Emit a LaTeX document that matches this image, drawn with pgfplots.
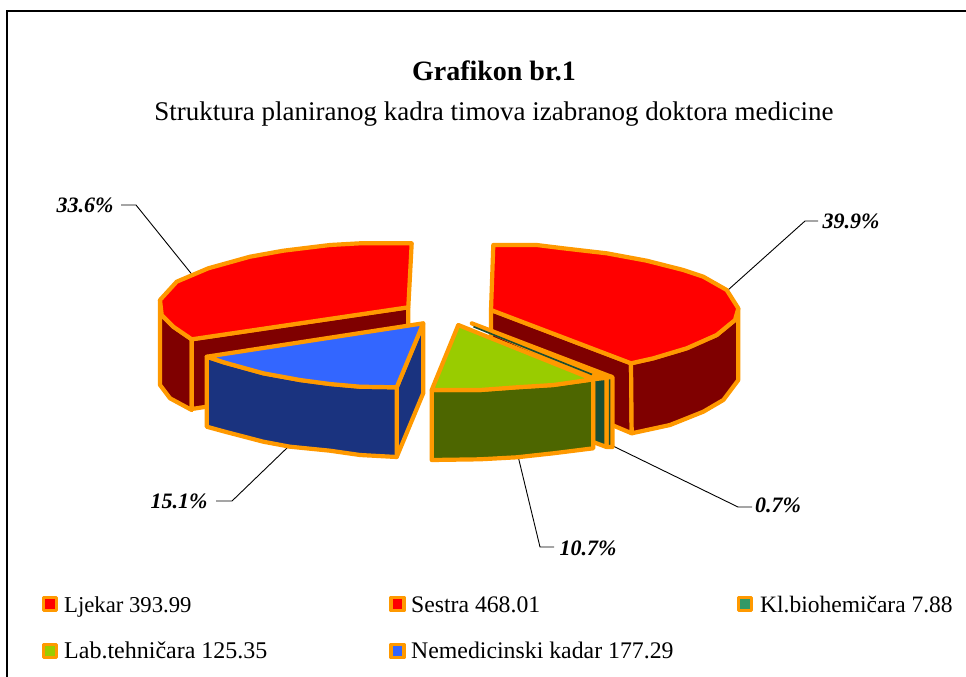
\documentclass[border=0pt]{standalone}
\usepackage{pgfplots}
\pgfplotsset{compat=1.18}
\usepackage{fontspec}
\setmainfont{Liberation Serif}
\definecolor{edge}{HTML}{FF9900}
\definecolor{redtop}{HTML}{FF0000}
\definecolor{redside}{HTML}{7F0000}
\definecolor{bluetop}{HTML}{3366FF}
\definecolor{blueside}{HTML}{1A337F}
\definecolor{greentop}{HTML}{99CC00}
\definecolor{greenside}{HTML}{4D6600}
\definecolor{tealtop}{HTML}{339966}
\definecolor{tealside}{HTML}{1A4D33}
\pgfplotsset{
  face/.style={draw=edge,line width=4.2pt,line join=round,fill=#1,mark=none},
  lead/.style={draw=black,line width=0.9pt,mark=none},
  swatch/.style={only marks,mark=square*,mark size=6.5pt,
    mark options={draw=edge,line width=3.8pt,fill=#1,line join=round}}
}
\begin{document}
\begin{tikzpicture}
\useasboundingbox (0pt,0pt) rectangle (966pt,677pt);
\begin{axis}[
  at={(0pt,0pt)},anchor=south west,
  width=966pt,height=677pt,scale only axis,
  xmin=0,xmax=966,ymin=0,ymax=677,y dir=reverse,
  axis lines=none,clip=true
]
% frame
\addplot[draw=black,line width=1.4pt,mark=none] coordinates {(7,677) (7,11) (966,11)};
% leaders
\addplot[lead] coordinates {(121,205) (136,205) (194,277)};
\addplot[lead] coordinates {(728,290) (805,221) (818,221)};
\addplot[lead] coordinates {(288,447) (232,501) (216,501)};
\addplot[lead] coordinates {(518,456) (540,547) (554,547)};
\addplot[lead] coordinates {(613,446) (738,507) (752,507)};
% Ljekar
\addplot[face=redside] coordinates {(160,300) (161.7,315) (173.3,326.7) (191.7,339.3) (191.7,410) (170,398.3) (160,385)} -- cycle;
\addplot[face=redside] coordinates {(191.7,339.3) (408.3,307.3) (408.3,335) (206.7,406.7) (191.7,409)} -- cycle;
\addplot[face=redtop] coordinates {(160,300) (176.7,281.7) (208.3,268.3) (250,256.7) (283.3,250.7) (330,245) (360,243.3) (411.7,243.3) (408.3,307.3) (191.7,339.3) (173.3,326.7) (161.7,315)} -- cycle;
% Nemedicinski kadar
\addplot[face=blueside] coordinates {(396.7,387.3) (423.3,323.3) (423.3,393) (396.7,457)} -- cycle;
\addplot[face=blueside] coordinates {(206.7,356.7) (225,362.7) (263.3,373.3) (300,380) (330,384) (360,386.7) (396.7,387.3) (396.7,457) (360,455) (330,450.7) (290,446.7) (263.3,441.7) (225,431.7) (206.7,426.7)} -- cycle;
\addplot[face=bluetop] coordinates {(423.3,323.3) (206.7,356.7) (225,362.7) (263.3,373.3) (300,380) (330,384) (360,386.7) (396.7,387.3)} -- cycle;
% Sestra
\addplot[face=redside] coordinates {(491,310) (631,363.3) (631.7,433.3) (612,425) (491,380)} -- cycle;
\addplot[face=redside] coordinates {(631,363.3) (653.3,358.3) (686.7,348.3) (716.7,335) (735,320) (738.3,308.3) (738.3,380) (723.3,400) (703.3,411.7) (670,425) (631.7,433.3)} -- cycle;
\addplot[face=redtop] coordinates {(493.3,245) (536.7,245) (563.3,248.3) (606.7,253.3) (646.7,260.7) (683.3,270) (703.3,276.7) (726.7,290) (738.3,308.3) (735,320) (716.7,335) (686.7,348.3) (653.3,358.3) (631,363.3) (491,310)} -- cycle;
% Kl.biohemicara
\addplot[face=tealside] coordinates {(606.5,376) (612.5,377) (612.5,447) (606.5,447)} -- cycle;
\addplot[face=tealside] coordinates {(593,378) (606.5,378) (606.5,447) (593,442)} -- cycle;
\addplot[face=edge] coordinates {(471.7,323.3) (612,377) (596,379)} -- cycle;
\addplot[draw=tealside,line width=1.6pt,mark=none] coordinates {(473.5,326.7) (592,374.5)};
% Lab.tehnicara
\addplot[face=greenside] coordinates {(431.7,390) (480,390) (516.7,387.3) (553.3,385) (593.3,379.3) (593.3,448.3) (553.3,453.3) (516.7,457.3) (480,459.3) (431.7,460)} -- cycle;
\addplot[face=greentop] coordinates {(458.3,325) (431.7,390) (480,390) (516.7,387.3) (553.3,385) (593.3,379.3)} -- cycle;
% legend swatches
\addplot[swatch=redtop] coordinates {(50,604)};
\addplot[swatch=redtop] coordinates {(397.5,604)};
\addplot[swatch=tealtop] coordinates {(745,604)};
\addplot[swatch=greentop] coordinates {(50,651)};
\addplot[swatch=bluetop] coordinates {(397.5,651)};
% titles
\node[anchor=base,inner sep=0pt] at (axis cs:494,81) {\fontsize{28}{30}\selectfont\bfseries Grafikon br.1};
\node[anchor=base,inner sep=0pt] at (axis cs:494,120) {\fontsize{27}{30}\selectfont Struktura planiranog kadra timova izabranog doktora medicine};
% data labels
\newcommand{\dl}[1]{\fontsize{22}{24}\selectfont\bfseries\itshape #1}
\node[anchor=base,inner sep=0pt] at (axis cs:85,212) {\dl{33.6\%}};
\node[anchor=base,inner sep=0pt] at (axis cs:851,228) {\dl{39.9\%}};
\node[anchor=base,inner sep=0pt] at (axis cs:179,508) {\dl{15.1\%}};
\node[anchor=base,inner sep=0pt] at (axis cs:588,555) {\dl{10.7\%}};
\node[anchor=base,inner sep=0pt] at (axis cs:778,512) {\dl{0.7\%}};
% legend text
\newcommand{\lt}[2]{\fontsize{#1}{26}\selectfont #2}
\node[anchor=base west,inner sep=0pt] at (axis cs:64,612) {\lt{22.7}{Ljekar 393.99}};
\node[anchor=base west,inner sep=0pt] at (axis cs:411,612) {\lt{23.7}{Sestra 468.01}};
\node[anchor=base west,inner sep=0pt] at (axis cs:760,612) {\lt{23.5}{Kl.biohemičara 7.88}};
\node[anchor=base west,inner sep=0pt] at (axis cs:64,658) {\lt{24}{Lab.tehničara 125.35}};
\node[anchor=base west,inner sep=0pt] at (axis cs:411,658) {\lt{23.8}{Nemedicinski kadar 177.29}};
\end{axis}
\end{tikzpicture}
\end{document}
